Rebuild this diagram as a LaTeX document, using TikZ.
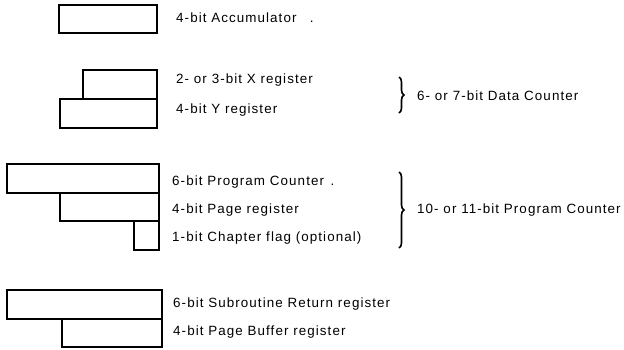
\documentclass[tikz,border=0pt]{standalone}
\usepackage{fontspec}
\setmainfont{Liberation Sans}[LetterSpace=8]
\usetikzlibrary{decorations.pathreplacing}
\begin{document}
\begin{tikzpicture}[x=1pt,y=-1pt,
  regbox/.style={draw,line width=2pt},
  lbl/.style={anchor=west,inner sep=0pt,font=\fontsize{13.4}{15}\selectfont},
  brc/.style={decorate,decoration={brace,amplitude=5pt},line width=1.6pt}]
\useasboundingbox (0,0) rectangle (624,349);
% boxes
\draw[regbox] (59,5) rectangle (157,33);
\draw[regbox] (83,70) rectangle (157,99);
\draw[regbox] (60,99) rectangle (157,128);
\draw[regbox] (7,164) rectangle (159,193);
\draw[regbox] (60,193) rectangle (159,221);
\draw[regbox] (134,221) rectangle (159,250);
\draw[regbox] (7,290) rectangle (162,319);
\draw[regbox] (62,319) rectangle (162,347);
% labels
\node[lbl] (acc) at (176,18) {4-bit Accumulator\quad .};
\node[lbl] (xr) at (176,80) {2- or 3-bit X register};
\node[lbl] (yr) at (176,110) {4-bit Y register};
\node[lbl] (pc) at (172,182) {6-bit Program Counter\enspace.};
\node[lbl] (pg) at (172,210) {4-bit Page register};
\node[lbl] (ch) at (172,238) {1-bit Chapter flag (optional)};
\node[lbl] (sr) at (173,304) {6-bit Subroutine Return register};
\node[lbl] (pb) at (173,332) {4-bit Page Buffer register};
% braces
\draw[brc] (399,77) -- (399,113);
\draw[brc] (399,172) -- (399,248);
\node[lbl] (dc) at (417,96) {6- or 7-bit Data Counter};
\node[lbl] (ppc) at (417,210) {10- or 11-bit Program Counter};
\end{tikzpicture}
\end{document}
